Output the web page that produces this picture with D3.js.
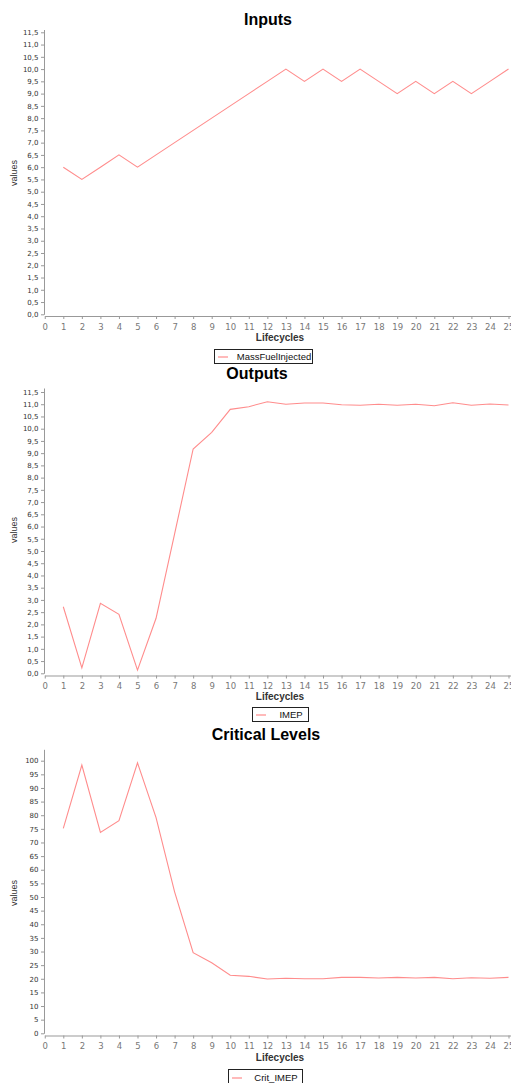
<!DOCTYPE html>
<html><head><meta charset="utf-8">
<script src="https://cdn.jsdelivr.net/npm/d3@7"></script>
<style>
body{margin:0;background:#fff;overflow:hidden;}
svg{display:block;font-family:"Liberation Sans",Arial,sans-serif;}
</style></head>
<body>
<svg id="c" width="511" height="1083"></svg>
<script>
const lifecycles = d3.range(1, 26);
const xTicks = d3.range(0, 26);
const massFuelInjected = [6.0,5.5,6.0,6.5,6.0,6.5,7.0,7.5,8.0,8.5,9.0,9.5,10.0,9.5,10.0,9.5,10.0,9.5,9.0,9.5,9.0,9.5,9.0,9.5,10.0];
const imep = [2.72,0.22,2.86,2.41,0.13,2.25,5.7,9.17,9.85,10.79,10.9,11.1,11.0,11.05,11.05,10.98,10.96,11.0,10.96,11.0,10.94,11.06,10.96,11.01,10.97];
const critImep = [75.2,98.4,73.7,78.0,99.2,79.1,51.9,29.6,25.9,21.3,20.9,19.9,20.2,20.0,20.0,20.5,20.5,20.3,20.5,20.3,20.5,20.0,20.4,20.2,20.5];
const yTicksSmall = d3.range(0, 24).map(i => i * 0.5);
const yTicksCrit = d3.range(0, 21).map(i => i * 5);

const charts = [
  {title:"Inputs", titleX:268, titleY:24.5, name:"MassFuelInjected", values:massFuelInjected,
   y0:314.3, yTickTop:32.3, tickTopVal:11.5, axisTop:29.5, ticks:yTicksSmall, fmt:v=>d3.format(".1f")(v).replace(".",","),
   xAxisY:316, labelY:173, lifeY:341, legend:{x:214,y:349,w:98,h:14}},
  {title:"Outputs", titleX:257, titleY:378.7, name:"IMEP", values:imep,
   y0:673.3, yTickTop:392, tickTopVal:11.5, axisTop:388, ticks:yTicksSmall, fmt:v=>d3.format(".1f")(v).replace(".",","),
   xAxisY:675.5, labelY:530, lifeY:700, legend:{x:252,y:707,w:56,h:14}},
  {title:"Critical Levels", titleX:266, titleY:740, name:"Crit_IMEP", values:critImep,
   y0:1033.3, yTickTop:760.7, tickTopVal:100, axisTop:749.3, ticks:yTicksCrit, fmt:v=>String(v),
   xAxisY:1035.5, labelY:893, lifeY:1061, legend:{x:228,y:1069,w:74,h:16}}
];

const svg = d3.select("#c");
const lineColor = "#ff8c8c";

charts.forEach(c => {
  const g = svg.append("g");
  const x = d3.scaleLinear().domain([0, 25]).range([44.75, 508.5]);
  const y = d3.scaleLinear().domain([0, c.tickTopVal]).range([c.y0, c.yTickTop]);
  const topVal = y.invert(c.axisTop);
  y.domain([0, topVal]).range([c.y0, c.axisTop]);

  g.append("text").attr("x", c.titleX).attr("y", c.titleY).attr("text-anchor","middle")
    .attr("font-size", 16).attr("font-weight","bold").attr("fill","#000").text(c.title);

  // y axis
  const ya = g.append("g").attr("transform", `translate(44,0)`)
    .call(d3.axisLeft(y).tickValues(c.ticks).tickFormat(c.fmt).tickSize(3).tickSizeOuter(0));
  ya.select(".domain").attr("stroke","#999");
  ya.selectAll(".tick line").attr("stroke","#999");
  ya.selectAll(".tick text").attr("font-size",7.5).attr("fill","#333").attr("x",-5.5)
    .attr("font-family","'DejaVu Sans',sans-serif").style("font-size","7px");

  // x axis
  const xExt = d3.scaleLinear().domain([0, 25.2]).range([44.75, 44.75 + 25.2*(508.5-44.75)/25]);
  const xa = g.append("g").attr("transform", `translate(0,${c.xAxisY})`)
    .call(d3.axisBottom(xExt).tickValues(xTicks).tickFormat(d3.format("d")).tickSize(3).tickSizeOuter(0));
  xa.select(".domain").attr("stroke","#999");
  xa.selectAll(".tick line").attr("stroke","#999");
  xa.selectAll(".tick text").attr("fill","#777").attr("dy","0.9em")
    .attr("font-family","'DejaVu Sans',sans-serif").style("font-size","8.5px");

  g.append("text").attr("transform",`translate(17,${c.labelY}) rotate(-90)`).attr("text-anchor","middle")
    .attr("font-size",9).attr("fill","#333").text("values");
  g.append("text").attr("x",280).attr("y",c.lifeY).attr("text-anchor","middle")
    .attr("font-size",10).attr("font-weight","bold").attr("fill","#333").text("Lifecycles");

  const line = d3.line().x((d,i)=>x(lifecycles[i])).y(d=>y(d));
  g.append("path").datum(c.values).attr("d", line).attr("fill","none")
    .attr("stroke", lineColor).attr("stroke-width",1.1);

  const L = c.legend;
  g.append("rect").attr("x",L.x+0.5).attr("y",L.y+0.5).attr("width",L.w).attr("height",L.h)
    .attr("fill","#fff").attr("stroke","#222").attr("stroke-width",1);
  g.append("line").attr("x1",L.x+4).attr("x2",L.x+14).attr("y1",L.y+L.h/2+1).attr("y2",L.y+L.h/2+1)
    .attr("stroke",lineColor).attr("stroke-width",1.2);
  g.append("text").attr("x",L.x+ (L.w - 22)/2 + 22).attr("y",L.y+L.h/2+4).attr("text-anchor","middle")
    .attr("font-size",9.5).attr("fill","#111").text(c.name);
});
</script>
</body></html>
